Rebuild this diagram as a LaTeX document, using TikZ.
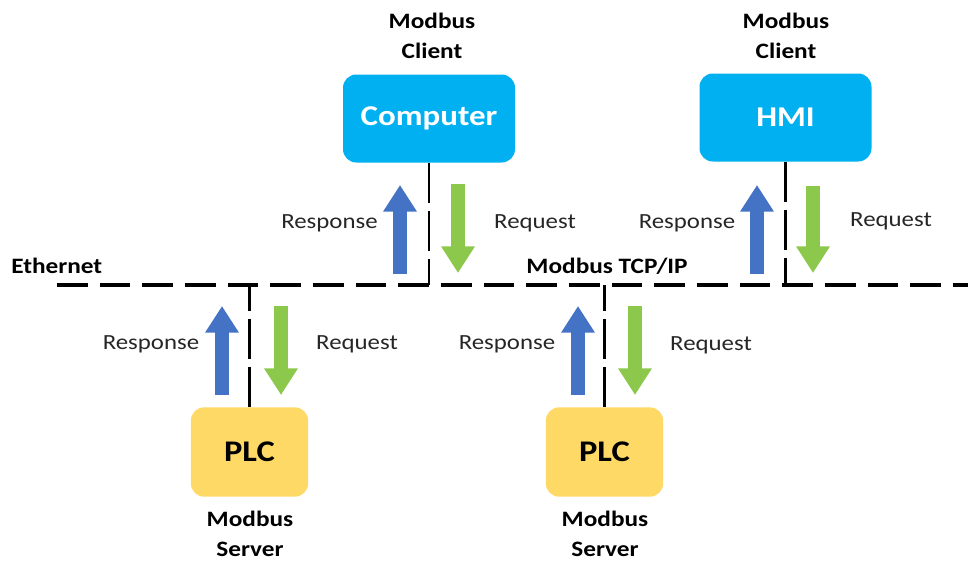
\documentclass[tikz,border=0pt]{standalone}
\usepackage{fontspec}
\setmainfont[FakeStretch=1.15]{Carlito}
\usetikzlibrary{arrows.meta}

\definecolor{clientfill}{HTML}{00B0F0}
\definecolor{serverfill}{HTML}{FFD966}
\definecolor{respblue}{HTML}{4472C4}
\definecolor{reqgreen}{HTML}{8CC84B}

\tikzset{
  clientbox/.style={fill=clientfill, rounded corners=10pt, minimum width=129pt, minimum height=66pt,
    text=white, font=\fontsize{21.5}{26}\selectfont\bfseries, inner sep=0pt},
  serverbox/.style={fill=serverfill, rounded corners=10pt, minimum width=88pt, minimum height=67pt,
    text=black, font=\fontsize{22.5}{27}\selectfont\bfseries, inner sep=0pt},
  rolelabel/.style={align=center, font=\fontsize{16.5}{22.5}\selectfont\bfseries, inner sep=0pt},
  flowlabel/.style={font=\fontsize{16.2}{18}\selectfont, text=black!85, inner sep=0pt},
  netlabel/.style={font=\fontsize{16.5}{18}\selectfont\bfseries, inner sep=0pt},
  bus/.style={line width=3pt, dash pattern=on 23pt off 9pt},
  drop/.style={line width=2.2pt, dash pattern=on 30pt off 6pt},
  respflow/.style={draw=respblue, line width=10.5pt, -{Triangle[length=20pt, width=24pt]}},
  reqflow/.style={draw=reqgreen, line width=10.5pt, -{Triangle[length=20pt, width=24pt]}},
}

\begin{document}
\begin{tikzpicture}[x=0.75pt, y=-0.75pt]
\useasboundingbox (0,0) rectangle (968,561);

% devices
\node[clientbox] (comp) at (429,118.5) {Computer};
\node[clientbox] (hmi)  at (785.5,117.5) {HMI};
\node[serverbox] (plcA) at (249.5,452) {PLC};
\node[serverbox] (plcB) at (604.5,452) {PLC};

% role captions
\node[rolelabel] (compRole) at (432,36) {Modbus\\Client};
\node[rolelabel] (hmiRole)  at (786,36) {Modbus\\Client};
\node[rolelabel] (plcARole) at (250,534) {Modbus\\Server};
\node[rolelabel] (plcBRole) at (605,534) {Modbus\\Server};

% Ethernet bus
\coordinate (busL) at (57,285);
\coordinate (busR) at (968,285);
\draw[bus] (busL) -- (busR);
\node[netlabel, anchor=west] (eth) at (11,266) {Ethernet};
\node[netlabel] (tcp) at (607,266) {Modbus TCP/IP};

% drops from each device to the bus
\draw[drop] (comp.south) -- (comp.south |- busL);
\draw[drop] (hmi.south)  -- (hmi.south |- busL);
\draw[drop] (plcA.north) -- (plcA.north |- busL);
\draw[drop] (plcB.north) -- (plcB.north |- busL);

% request / response flows at the computer
\coordinate (compRespTail) at (400,274);  \coordinate (compRespTip) at (400,185);
\coordinate (compReqTail)  at (458,184);  \coordinate (compReqTip)  at (458,273);
\draw[respflow] (compRespTail) -- (compRespTip);
\draw[reqflow]  (compReqTail)  -- (compReqTip);
\node[flowlabel] (compResp) at (329.5,223) {Response};
\node[flowlabel] (compReq)  at (535,223) {Request};

% request / response flows at the HMI
\coordinate (hmiRespTail) at (757,274);  \coordinate (hmiRespTip) at (757,185);
\coordinate (hmiReqTail)  at (813,186);  \coordinate (hmiReqTip)  at (813,273);
\draw[respflow] (hmiRespTail) -- (hmiRespTip);
\draw[reqflow]  (hmiReqTail)  -- (hmiReqTip);
\node[flowlabel] (hmiResp) at (687,223) {Response};
\node[flowlabel] (hmiReq)  at (891,221) {Request};

% request / response flows at the first PLC
\coordinate (plcARespTail) at (222,395);  \coordinate (plcARespTip) at (222,306);
\coordinate (plcAReqTail)  at (281,306);  \coordinate (plcAReqTip)  at (281,395);
\draw[respflow] (plcARespTail) -- (plcARespTip);
\draw[reqflow]  (plcAReqTail)  -- (plcAReqTip);
\node[flowlabel] (plcAResp) at (151,344) {Response};
\node[flowlabel] (plcAReq)  at (357,344) {Request};

% request / response flows at the second PLC
\coordinate (plcBRespTail) at (578,395);  \coordinate (plcBRespTip) at (578,306);
\coordinate (plcBReqTail)  at (635,306);  \coordinate (plcBReqTip)  at (635,395);
\draw[respflow] (plcBRespTail) -- (plcBRespTip);
\draw[reqflow]  (plcBReqTail)  -- (plcBReqTip);
\node[flowlabel] (plcBResp) at (507,344) {Response};
\node[flowlabel] (plcBReq)  at (711,345) {Request};
\end{tikzpicture}
\end{document}
